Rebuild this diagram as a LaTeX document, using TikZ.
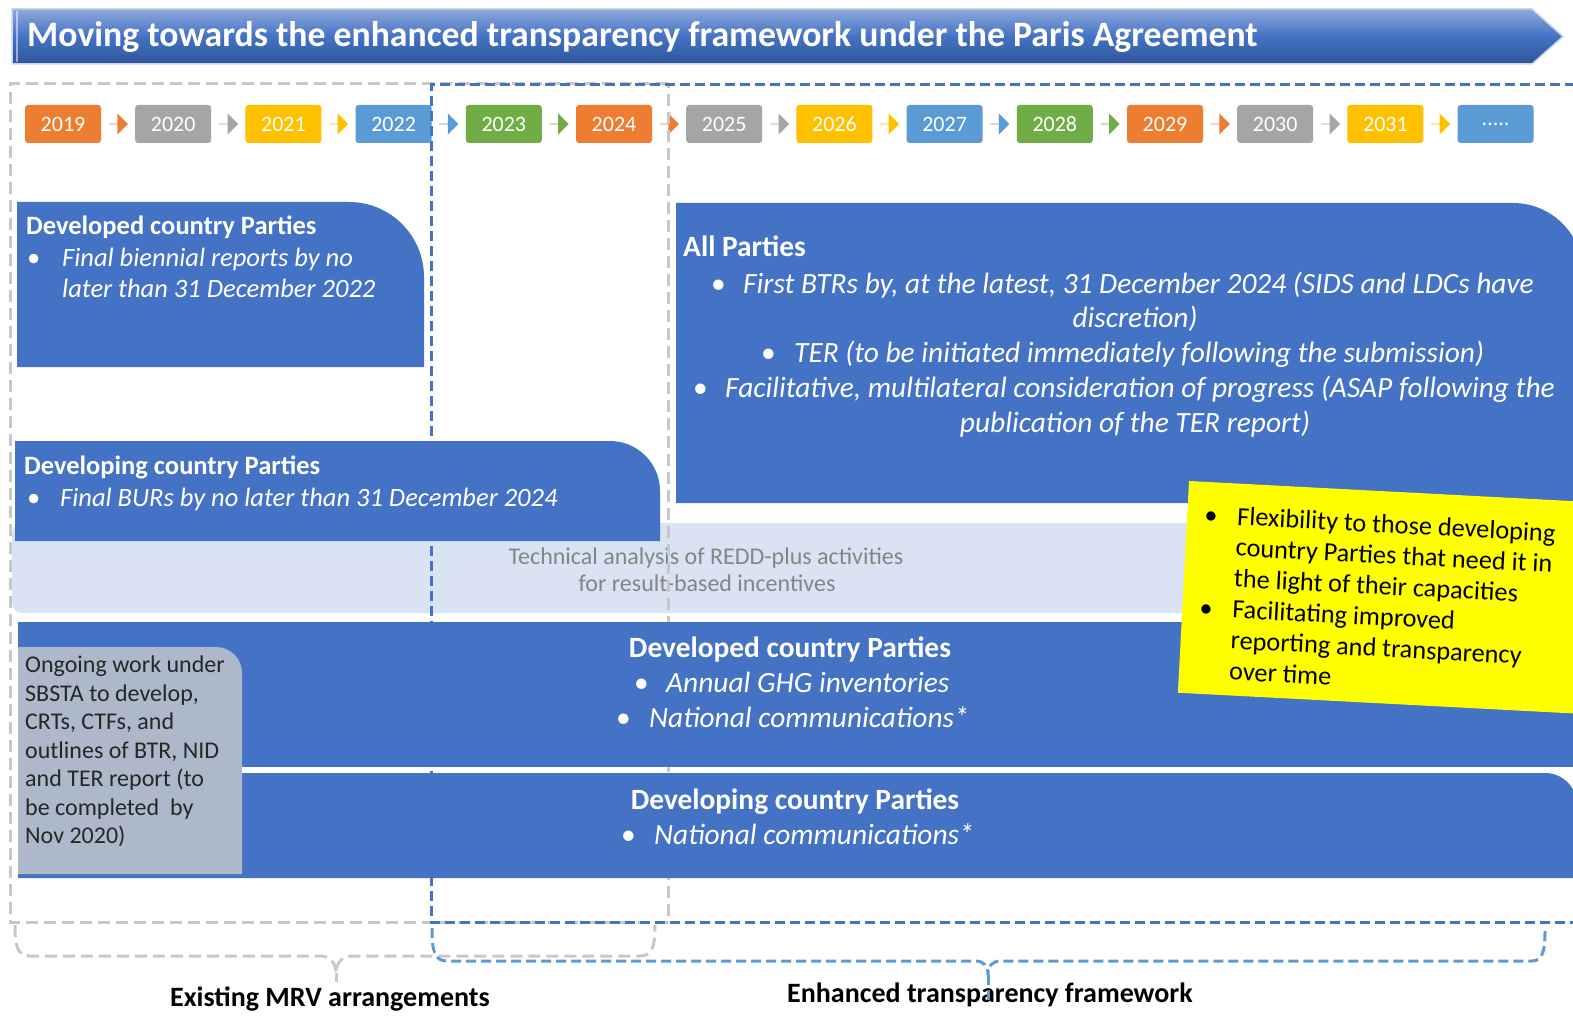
\documentclass[tikz,border=0pt]{standalone}
\usepackage{fontspec}
\setmainfont{Carlito}
\usetikzlibrary{shapes.arrows,calc}
\definecolor{cblue}{HTML}{4472C4}
\definecolor{cred}{HTML}{DAE3F3}
\definecolor{cgreybox}{HTML}{ADB9CA}
\definecolor{corange}{HTML}{ED7D31}
\definecolor{cgrey}{HTML}{A5A5A5}
\definecolor{cgold}{HTML}{FFC000}
\definecolor{cyblue}{HTML}{5B9BD5}
\definecolor{cgreen}{HTML}{70AD47}
\definecolor{dashgrey}{HTML}{C8C8C8}
\definecolor{reddtext}{HTML}{858585}
\definecolor{ctop}{HTML}{8EA9DB}
\definecolor{cmid}{HTML}{4472C4}
\definecolor{cbot}{HTML}{2F5597}
\definecolor{cedge}{HTML}{C9D5EE}
\definecolor{darktext}{HTML}{262626}
\definecolor{flexyellow}{HTML}{FFFF00}
\newcommand\fivedots{.....}
\begin{document}
\begin{tikzpicture}[x=1pt,y=-1pt,
  yearbox/.style={rounded corners=3pt, minimum width=76pt, minimum height=38pt, inner sep=0pt, text=white, font=\fontsize{22}{26}\selectfont},
  yarr/.style={single arrow, minimum height=19pt, minimum width=21pt, single arrow head extend=5pt, inner sep=0pt, draw=none},
  gdash/.style={draw=dashgrey, line width=3pt, dash pattern=on 12pt off 6pt},
  bdash/.style={draw=cblue, line width=3pt, dash pattern=on 10pt off 5pt},
  bbrace/.style={draw=cyblue, line width=3pt, dash pattern=on 10pt off 5pt},
  hd/.style={text=white, font=\bfseries\fontsize{26.5}{30}\selectfont, inner sep=0pt},
  hdbig/.style={text=white, font=\bfseries\fontsize{29.4}{33}\selectfont, inner sep=0pt},
  itx/.style={text=white, font=\itshape\fontsize{26.5}{30}\selectfont, inner sep=0pt},
  itbig/.style={text=white, font=\itshape\fontsize{29.4}{33}\selectfont, inner sep=0pt},
  redd/.style={text=reddtext, font=\fontsize{24}{28}\selectfont, inner sep=0pt},
  lbl/.style={text=black, font=\bfseries\fontsize{28}{32}\selectfont, inner sep=0pt}
]
\clip (0,0) rectangle (1573,1016);
\fill[white] (0,0) rectangle (1573,1016);
% title banner
\shadedraw[top color=ctop, bottom color=cbot, middle color=cmid, draw=cedge, line width=1.5pt]
  (12,9) -- (1532,9) -- (1563,36.5) -- (1532,64) -- (12,64) -- cycle;
\draw[white, opacity=0.5, line width=1.5pt] (17,11) -- (17,62);
\node[anchor=west, text=white, inner sep=0pt, font=\bfseries\fontsize{35.7}{40}\selectfont] (title) at (27,37)
  {Moving towards the enhanced transparency framework under the Paris Agreement};
% year row
\foreach \i/\lab/\c in {0/2019/corange,1/2020/cgrey,2/2021/cgold,3/2022/cyblue,4/2023/cgreen,5/2024/corange,6/2025/cgrey,7/2026/cgold,8/2027/cyblue,9/2028/cgreen,10/2029/corange,11/2030/cgrey,12/2031/cgold,13/\fivedots/cyblue}
  \node[yearbox, fill=\c] (y\i) at (63+110.2*\i,124) {\lab};
\foreach \i/\c in {0/corange,1/cgrey,2/cgold,3/cyblue,4/cgreen,5/corange,6/cgrey,7/cgold,8/cyblue,9/cgreen,10/corange,11/cgrey,12/cgold}{
  \pgfmathtruncatemacro\j{\i+1}
  \node[yarr, fill=\c] (a\i) at ($(y\i.east)!0.5!(y\j.west)$) {};
}
% REDD band
\fill[cred, rounded corners=10pt] (12,523) rectangle (1600,613);
\node[redd, anchor=base] (redd1) at (706,564) {Technical analysis of REDD-plus activities};
\node[redd, anchor=base] (redd2) at (707,591) {for result-based incentives};
% developing (existing) box
\fill[cblue] (15,541) -- (15,441) -- (610,441) .. controls (637.6,441) and (660,463.4) .. (660,491) -- (660,541) -- cycle;
\node[hd, anchor=base west] (dg1) at (24,474) {Developing country Parties};
\node[itx, anchor=base west] (dg1l) at (27,506) {\makebox[33pt][l]{\upshape•}Final BURs by no later than 31 December 2024};
% developed (existing) box
\fill[cblue] (17,367) -- (17,202) -- (349,202) .. controls (390.4,202) and (424,235.6) .. (424,277) -- (424,367) -- cycle;
\node[hd, anchor=base west] (dd1) at (26,235) {Developed country Parties};
\node[itx, anchor=base west] (dd1a) at (27,266) {\makebox[35pt][l]{\upshape•}Final biennial reports by no};
\node[itx, anchor=base west] (dd1b) at (62,298) {later than 31 December 2022};
% All Parties box
\fill[cblue] (676,503) -- (676,203) -- (1513,203) .. controls (1551.6,203) and (1583,234.4) .. (1583,273) -- (1583,503) -- cycle;
\node[hdbig, anchor=base west] (ap) at (683,257) {All Parties};
\node[itbig, anchor=base west] (ap1) at (711,293) {\makebox[32pt][l]{\upshape•}First BTRs by, at the latest, 31 December 2024 (SIDS and LDCs have};
\node[itbig, anchor=base] (ap2) at (1135,327) {discretion)};
\node[itbig, anchor=base west] (ap3) at (761,362) {\makebox[33pt][l]{\upshape•}TER (to be initiated immediately following the submission)};
\node[itbig, anchor=base west] (ap4) at (693,397) {\makebox[32pt][l]{\upshape•}Facilitative, multilateral consideration of progress (ASAP following the};
\node[itbig, anchor=base] (ap5) at (1135,432) {publication of the TER report)};
% dashed frames
\draw[gdash] (668,84) -- (10,84) -- (10,922) -- (668,922) -- cycle;
\draw[bdash] (1590,85) -- (431,85) -- (431,922) -- (1590,922);
% developed (ETF) band
\fill[cblue] (18,622) rectangle (1600,767);
\node[hdbig, anchor=base] (dd2) at (790,657) {Developed country Parties};
\node[itbig, anchor=base west] (dd2a) at (634,692) {\makebox[32pt][l]{\upshape•}Annual GHG inventories};
\node[itbig, anchor=base west] (dd2b) at (616,727) {\makebox[33pt][l]{\upshape•}National communications*};
% developing (ETF) band
\fill[cblue] (18,878) -- (18,773) -- (1545,773) .. controls (1562.7,773) and (1577,787.3) .. (1577,805) -- (1577,878) -- cycle;
\node[hdbig, anchor=base] (dg2) at (795,809) {Developing country Parties};
\node[itbig, anchor=base west] (dg2a) at (621,844) {\makebox[33pt][l]{\upshape•}National communications*};
% grey box
\fill[cgreybox] (18,874) -- (18,647) -- (216,647) .. controls (230.4,647) and (242,658.6) .. (242,673) -- (242,874) -- cycle;
\node[anchor=north west, inner sep=0pt, align=left, text=darktext, font=\fontsize{24}{28.5}\selectfont] (sbsta) at (25,656)
  {Ongoing work under\\SBSTA to develop,\\CRTs, CTFs, and\\outlines of BTR, NID\\and TER report (to\\be completed~ by\\Nov 2020)};
% yellow note
\begin{scope}[shift={(1189,481)}, rotate=-3]
  \fill[flexyellow] (0,0) rectangle (440,212);
  \node[anchor=north west, inner sep=0pt, align=left, transform shape, text=black, font=\fontsize{26.3}{31}\selectfont] (flex) at (17,23)
   {\makebox[33pt][l]{•}Flexibility to those developing\\
    \hspace*{33pt}country Parties that need it in\\
    \hspace*{33pt}the light of their capacities\\
    \makebox[33pt][l]{•}Facilitating improved\\
    \hspace*{33pt}reporting and transparency\\
    \hspace*{33pt}over time};
\end{scope}
% bottom labels and braces
\node[lbl, anchor=base] (mrv) at (330,1006) {Existing MRV arrangements};
\node[lbl, anchor=base] (etf) at (990,1002) {Enhanced transparency framework};
\draw[gdash] (15,925) .. controls (15,945) and (17,956) .. (30,956) -- (320,956)
  .. controls (330,956) and (336,963) .. (336,973) .. controls (336,963) and (342,956) .. (352,956)
  -- (640,956) .. controls (653,956) and (655,945) .. (655,925);
\draw[gdash] (336,973) -- (336,982);
\draw[bbrace] (432,928) .. controls (432,950) and (434,961) .. (447,961) -- (975,961)
  .. controls (984,961) and (988,966) .. (988,975) .. controls (988,966) and (992,961) .. (1001,961)
  -- (1532,961) .. controls (1543,961) and (1545,950) .. (1545,930);
\draw[bbrace] (988,975) -- (988,1005);
\end{tikzpicture}
\end{document}
